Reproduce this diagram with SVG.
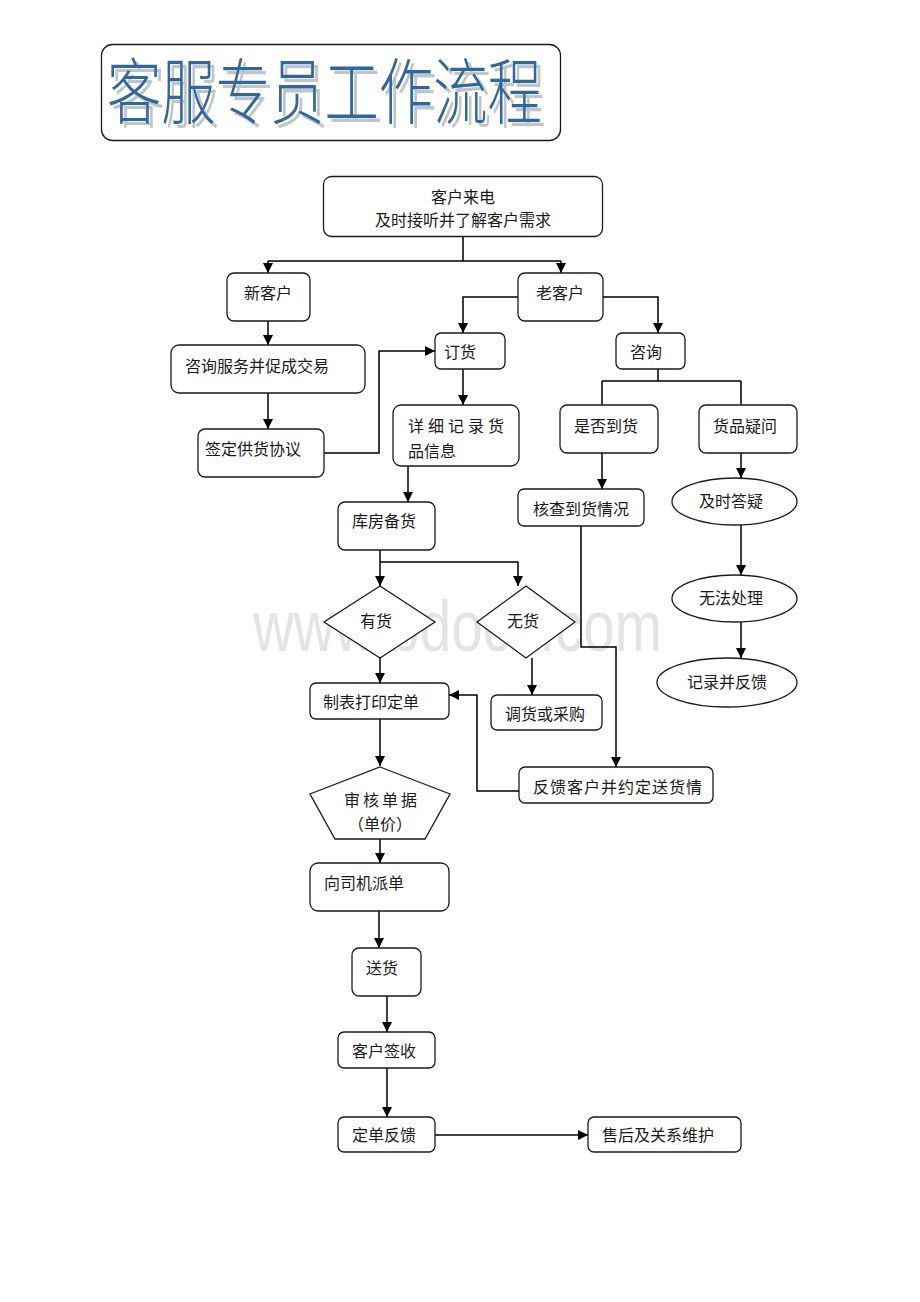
<svg xmlns="http://www.w3.org/2000/svg" width="920" height="1302" viewBox="0 0 920 1302">
<style>
.n{fill:#fff;stroke:#1a1a1a;stroke-width:1.3}
.t{font-family:"Noto Sans CJK SC","Noto Sans CJK TC",sans-serif;font-size:16px;fill:#1a1a1a}
.m{text-anchor:middle}
.c{fill:none;stroke:#000;stroke-width:1.5}
.a{marker-end:url(#ar)}
.ttl{font-family:"Noto Sans CJK SC",sans-serif;font-size:72px;font-weight:300}
</style>
<defs>
<marker id="ar" markerUnits="userSpaceOnUse" markerWidth="10" markerHeight="10" refX="10" refY="5" orient="auto">
<path d="M0,0 L10,5 L0,10 z" fill="#000"/>
</marker>
<filter id="sh" x="-5%" y="-10%" width="115%" height="130%">
<feOffset in="SourceAlpha" dx="4" dy="4" result="o"/>
<feFlood flood-color="#c4c4c4"/>
<feComposite in2="o" operator="in" result="s"/>
<feMerge><feMergeNode in="s"/><feMergeNode in="SourceGraphic"/></feMerge>
</filter>
</defs>
<rect width="920" height="1302" fill="#fff"/>
<text transform="translate(253,651) scale(1,1.28)" x="0" y="0" font-family="Liberation Sans, sans-serif" font-size="56.6" fill="#e4e4e4">www.bdocx.com</text>

<g id="title">
<rect x="101.5" y="44.5" width="459" height="96" rx="11" fill="#fff" stroke="#1a1a1a" stroke-width="1.3"/>
<text class="ttl" x="107" y="118" textLength="435" lengthAdjust="spacingAndGlyphs" fill="#2f68a0" filter="url(#sh)">客服专员工作流程</text>
</g>

<g id="connectors">
<path class="c" d="M463,237 V261 M268,261 H561"/>
<path class="c a" d="M268,261 V273"/>
<path class="c a" d="M561,261 V273"/>
<path class="c a" d="M518,297 H463 V333"/>
<path class="c a" d="M603,297 H658 V333"/>
<path class="c a" d="M268,321 V345"/>
<path class="c a" d="M268,393 V429"/>
<path class="c a" d="M324,453 H379 V351 H435"/>
<path class="c a" d="M463,369 V405"/>
<path class="c a" d="M408,466 V502"/>
<path class="c a" d="M380,550 V586"/>
<path class="c a" d="M380,562 H518 V586"/>
<path class="c a" d="M380,658 V683"/>
<path class="c a" d="M532,658 V695"/>
<path class="c a" d="M380,719 V766"/>
<path class="c a" d="M380,839 V863"/>
<path class="c a" d="M379,911 V948"/>
<path class="c a" d="M387,996 V1032"/>
<path class="c a" d="M387,1068 V1117"/>
<path class="c a" d="M435,1135 H588"/>
<path class="c" d="M658,369 V381 M602,381 H741 M602,381 V405 M741,381 V405"/>
<path class="c a" d="M602,453 V489"/>
<path class="c a" d="M581,526 V647 H616 V767"/>
<path class="c a" d="M519,791 H477 V695 H449"/>
<path class="c a" d="M741,453 V478"/>
<path class="c a" d="M741,525 V575"/>
<path class="c a" d="M741,622 V658"/>
</g>

<g id="n-call"><rect class="n" x="323.5" y="176.5" width="279" height="60" rx="8"/>
<text class="t m" x="463" y="203">客户来电</text><text class="t m" x="463" y="226">及时接听并了解客户需求</text></g>
<g id="n-new"><rect class="n" x="227" y="273" width="83" height="48" rx="7"/><text class="t m" x="268" y="299">新客户</text></g>
<g id="n-old"><rect class="n" x="518" y="273" width="85" height="48" rx="7"/><text class="t m" x="560" y="299">老客户</text></g>
<g id="n-order"><rect class="n" x="435" y="333" width="70" height="36" rx="6"/><text class="t" x="444" y="358">订货</text></g>
<g id="n-inquiry"><rect class="n" x="616" y="333" width="69" height="36" rx="6"/><text class="t m" x="646" y="358">咨询</text></g>
<g id="n-consult"><rect class="n" x="171" y="345" width="194" height="48" rx="8"/><text class="t" x="185" y="372">咨询服务并促成交易</text></g>
<g id="n-sign"><rect class="n" x="198" y="429" width="126" height="48" rx="7"/><text class="t" x="205" y="455">签定供货协议</text></g>
<g id="n-record"><rect class="n" x="393" y="405" width="126" height="61" rx="8"/>
<text class="t" x="408" y="432" letter-spacing="4">详细记录货</text><text class="t" x="408" y="457">品信息</text></g>
<g id="n-stock"><rect class="n" x="338" y="502" width="97" height="48" rx="7"/><text class="t" x="352" y="527">库房备货</text></g>
<g id="n-have"><polygon class="n" points="380,586 435,622 380,658 324,622"/><text class="t m" x="376" y="627">有货</text></g>
<g id="n-none"><polygon class="n" points="526,586 575,622 526,658 477,622"/><text class="t m" x="523" y="627">无货</text></g>
<g id="n-print"><rect class="n" x="310" y="683" width="139" height="36" rx="6"/><text class="t" x="323" y="708">制表打印定单</text></g>
<g id="n-transfer"><rect class="n" x="491" y="695" width="111" height="35" rx="6"/><text class="t" x="505" y="720">调货或采购</text></g>
<g id="n-audit"><polygon class="n" points="380,767 450,794 425,839 335,839 310,794"/>
<text class="t m" x="382" y="806" letter-spacing="3">审核单据</text><text class="t m" x="380" y="830">（单价）</text></g>
<g id="n-dispatch"><rect class="n" x="310" y="863" width="139" height="48" rx="8"/><text class="t" x="324" y="889">向司机派单</text></g>
<g id="n-deliver"><rect class="n" x="352" y="948" width="69" height="48" rx="7"/><text class="t" x="366" y="974">送货</text></g>
<g id="n-receipt"><rect class="n" x="338" y="1032" width="97" height="36" rx="6"/><text class="t" x="352" y="1057">客户签收</text></g>
<g id="n-feedback"><rect class="n" x="338" y="1117" width="97" height="35" rx="6"/><text class="t" x="352" y="1141">定单反馈</text></g>
<g id="n-after"><rect class="n" x="588" y="1117" width="153" height="35" rx="6"/><text class="t" x="602" y="1141">售后及关系维护</text></g>
<g id="n-arrival"><rect class="n" x="560" y="405" width="98" height="48" rx="7"/><text class="t m" x="606" y="432">是否到货</text></g>
<g id="n-question"><rect class="n" x="699" y="405" width="98" height="48" rx="7"/><text class="t m" x="745" y="432">货品疑问</text></g>
<g id="n-check"><rect class="n" x="518" y="489" width="126" height="37" rx="6"/><text class="t" x="533" y="515">核查到货情况</text></g>
<g id="n-notify"><rect class="n" x="519" y="767" width="194" height="36" rx="6"/><text class="t" x="533" y="793" letter-spacing="1">反馈客户并约定送货情</text></g>
<g id="n-answer"><ellipse class="n" cx="734.5" cy="501.5" rx="62.5" ry="23.5"/><text class="t m" x="731" y="507">及时答疑</text></g>
<g id="n-unable"><ellipse class="n" cx="734.5" cy="598.5" rx="62.5" ry="23.5"/><text class="t m" x="731" y="604">无法处理</text></g>
<g id="n-log"><ellipse class="n" cx="727" cy="682.5" rx="70" ry="24.5"/><text class="t m" x="727" y="688">记录并反馈</text></g>
</svg>
